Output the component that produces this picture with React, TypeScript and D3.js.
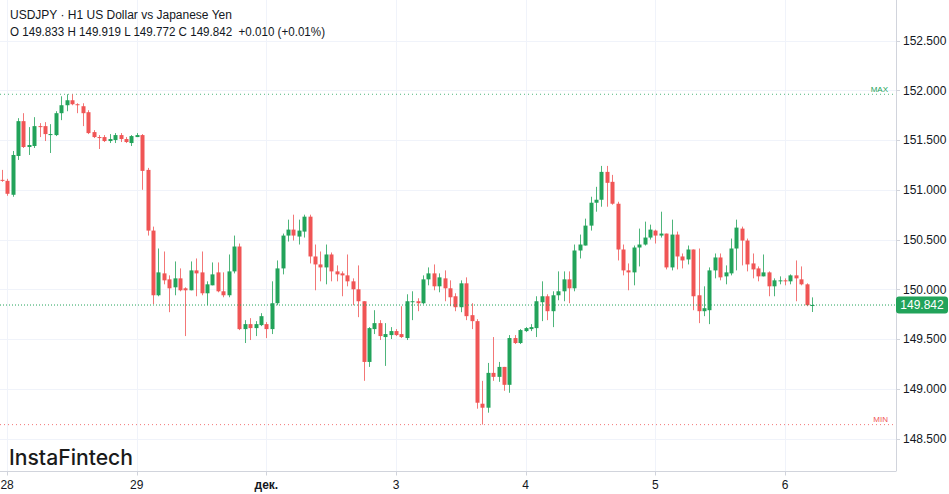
import React from 'react';
import * as d3 from 'd3';

const opens = [
  151.10, 151.09, 150.95, 151.34, 151.69, 151.43, 151.44, 151.64, 151.64, 151.55,
  151.55, 151.77, 151.85, 151.90, 151.86, 151.84, 151.78, 151.58, 151.53, 151.53,
  151.49, 151.50, 151.55, 151.51, 151.47, 151.53, 151.55, 151.20, 150.59, 149.94,
  150.16, 150.10, 150.02, 150.11, 150.01, 149.99, 150.19, 150.17, 149.96, 150.04,
  150.17, 149.98, 149.94, 150.18, 150.43, 149.60, 149.65, 149.61, 149.64, 149.65,
  149.60, 149.86, 150.21, 150.54, 150.60, 150.53, 150.58, 150.73, 150.33, 150.25,
  150.22, 150.35, 150.18, 150.16, 150.14, 150.08, 150.00, 149.88, 149.27, 149.60,
  149.66, 149.52, 149.54, 149.58, 149.55, 149.51, 149.87, 149.88, 149.86, 150.10,
  150.16, 150.03, 150.11, 150.01, 149.93, 149.82, 150.06, 149.74, 149.68, 148.85,
  148.81, 149.16, 149.12, 149.22, 149.04, 149.51, 149.46, 149.58, 149.60, 149.61,
  149.87, 149.93, 149.78, 149.94, 149.98, 150.10, 150.01, 150.39, 150.44, 150.64,
  150.87, 150.90, 151.18, 151.08, 150.86, 150.40, 150.19, 150.17, 150.42, 150.45,
  150.52, 150.59, 150.54, 150.56, 150.22, 150.55, 150.33, 150.30, 150.40, 149.94,
  149.78, 149.79, 150.19, 150.32, 150.13, 150.16, 150.41, 150.61, 150.49, 150.26,
  150.21, 150.13, 150.17, 150.03, 150.08, 150.09, 150.08, 150.14, 150.10, 150.05,
  149.833,
];

const highs = [
  151.20, 151.11, 151.39, 151.72, 151.77, 151.63, 151.73, 151.67, 151.68, 151.66,
  151.79, 151.94, 151.96, 151.96, 151.87, 151.87, 151.80, 151.60, 151.55, 151.55,
  151.56, 151.57, 151.57, 151.53, 151.55, 151.57, 151.56, 151.22, 150.63, 150.41,
  150.38, 150.14, 150.28, 150.21, 150.02, 150.28, 150.31, 150.38, 150.08, 150.27,
  150.27, 150.17, 150.35, 150.54, 150.46, 149.69, 149.71, 149.68, 149.76, 149.67,
  150.08, 150.29, 150.56, 150.70, 150.75, 150.70, 150.75, 150.75, 150.45, 150.38,
  150.45, 150.37, 150.24, 150.18, 150.35, 150.11, 150.24, 149.88, 149.62, 149.79,
  149.69, 149.66, 149.62, 149.60, 149.83, 149.95, 149.98, 149.91, 150.14, 150.22,
  150.25, 150.16, 150.19, 150.09, 149.96, 150.09, 150.12, 149.86, 149.70, 149.08,
  149.26, 149.52, 149.27, 149.22, 149.54, 149.54, 149.60, 149.62, 149.65, 149.93,
  150.08, 149.95, 149.98, 150.18, 150.18, 150.18, 150.45, 150.55, 150.71, 150.93,
  151.03, 151.24, 151.24, 151.15, 150.88, 150.45, 150.26, 150.44, 150.61, 150.68,
  150.65, 150.60, 150.78, 150.56, 150.70, 150.58, 150.36, 150.44, 150.40, 150.41,
  150.03, 150.22, 150.36, 150.36, 150.24, 150.51, 150.70, 150.63, 150.51, 150.36,
  150.23, 150.35, 150.18, 150.11, 150.13, 150.11, 150.15, 150.29, 150.23, 150.06,
  149.919,
];

const lows = [
  151.08, 150.94, 150.93, 151.30, 151.42, 151.35, 151.42, 151.53, 151.49, 151.37,
  151.54, 151.70, 151.79, 151.85, 151.77, 151.64, 151.56, 151.52, 151.41, 151.48,
  151.47, 151.47, 151.48, 151.47, 151.44, 151.53, 151.00, 150.54, 149.85, 149.93,
  150.05, 149.77, 149.94, 149.98, 149.53, 149.99, 149.93, 149.94, 149.84, 150.04,
  149.97, 149.92, 149.92, 150.16, 149.59, 149.46, 149.49, 149.53, 149.63, 149.51,
  149.55, 149.84, 150.15, 150.48, 150.49, 150.45, 150.52, 150.26, 149.99, 150.08,
  150.05, 150.08, 150.08, 149.93, 150.03, 149.84, 149.72, 149.08, 149.22, 149.55,
  149.49, 149.23, 149.50, 149.53, 149.51, 149.49, 149.69, 149.78, 149.85, 150.04,
  149.99, 149.97, 149.88, 149.83, 149.78, 149.77, 149.69, 149.60, 148.80, 148.64,
  148.76, 149.08, 149.07, 148.98, 148.96, 149.45, 149.45, 149.57, 149.58, 149.52,
  149.68, 149.69, 149.62, 149.89, 149.88, 149.86, 149.98, 150.31, 150.44, 150.59,
  150.78, 150.83, 150.83, 150.85, 150.29, 150.14, 149.99, 150.04, 150.23, 150.44,
  150.50, 150.46, 150.52, 150.20, 150.19, 150.20, 150.21, 150.25, 149.79, 149.66,
  149.73, 149.65, 150.11, 150.09, 150.05, 150.14, 150.19, 150.24, 150.18, 150.11,
  150.08, 150.13, 149.93, 149.93, 150.05, 150.04, 150.05, 149.88, 150.04, 149.83,
  149.772,
];

const closes = [
  151.09, 150.96, 151.35, 151.69, 151.43, 151.45, 151.64, 151.63, 151.56, 151.56,
  151.77, 151.85, 151.90, 151.86, 151.85, 151.77, 151.57, 151.53, 151.52, 151.49,
  151.51, 151.55, 151.51, 151.48, 151.54, 151.55, 151.19, 150.59, 149.94, 150.17,
  150.09, 150.01, 150.11, 149.99, 149.99, 150.19, 150.16, 149.96, 150.05, 150.15,
  149.98, 149.94, 150.18, 150.43, 149.60, 149.65, 149.61, 149.65, 149.73, 149.60,
  149.86, 150.21, 150.54, 150.60, 150.54, 150.59, 150.73, 150.33, 150.25, 150.22,
  150.35, 150.18, 150.15, 150.14, 150.08, 150.00, 149.88, 149.27, 149.61, 149.66,
  149.53, 149.55, 149.58, 149.54, 149.52, 149.88, 149.88, 149.86, 150.10, 150.16,
  150.03, 150.12, 150.01, 149.92, 149.82, 150.06, 149.73, 149.68, 148.86, 148.81,
  149.16, 149.12, 149.22, 149.04, 149.51, 149.46, 149.59, 149.61, 149.62, 149.88,
  149.93, 149.78, 149.94, 149.98, 150.10, 150.01, 150.39, 150.45, 150.64, 150.87,
  150.90, 151.18, 151.07, 150.86, 150.40, 150.19, 150.17, 150.42, 150.45, 150.52,
  150.60, 150.54, 150.56, 150.22, 150.55, 150.33, 150.29, 150.40, 149.93, 149.78,
  149.81, 150.19, 150.32, 150.12, 150.17, 150.41, 150.62, 150.49, 150.25, 150.20,
  150.13, 150.17, 150.03, 150.09, 150.09, 150.08, 150.14, 150.11, 150.05, 149.84,
  149.842,
];

const dayLabels = ['28', '29', 'дек.', '3', '4', '5', '6'];
const dayIndex = [1, 25, 49, 73, 97, 121, 145];
const priceTicks = [152.5, 152.0, 151.5, 151.0, 150.5, 150.0, 149.5, 149.0, 148.5];

const title = 'USDJPY · H1 US Dollar vs Japanese Yen';
const ohlcLine = 'O 149.833 H 149.919 L 149.772 C 149.842  +0.010 (+0.01%)';
const lastPrice = 149.842;

const UP = '#22a35a';
const DOWN = '#f05555';
const GRID = '#f0f3fa';
const AXIS = '#d1d4dc';
const TEXT = '#131722';
const FONT = '"Liberation Sans", Arial, sans-serif';

export default function App() {
  const W = 949;
  const H = 494;
  const plotRight = 896;
  const plotBottom = 471.5;

  const x = d3.scaleLinear().domain([0, opens.length - 1]).range([1.7, 812]);
  const y = d3.scaleLinear().domain([148.5, 152.5]).range([438.55, 40.55]);

  const maxHigh = d3.max(highs) as number;
  const minLow = d3.min(lows) as number;
  const bodyW = 4;

  const candles = opens.map((o, i) => {
    const c = closes[i];
    const up = c >= o;
    const color = up ? UP : DOWN;
    const cx = Math.round(x(i));
    const top = y(Math.max(o, c));
    const bot = y(Math.min(o, c));
    return (
      <g key={i}>
        <line
          x1={cx + 0.5}
          x2={cx + 0.5}
          y1={y(highs[i])}
          y2={y(lows[i])}
          stroke={color}
          strokeWidth={1}
          strokeOpacity={0.8}
        />
        <rect
          x={cx + 0.5 - bodyW / 2}
          y={top}
          width={bodyW}
          height={Math.max(1, bot - top)}
          fill={color}
        />
      </g>
    );
  });

  const yLast = y(lastPrice);

  return (
    <svg
      width={W}
      height={H}
      style={{ position: 'absolute', left: 0, top: 0, background: '#ffffff' }}
      fontFamily={FONT}
    >
      <rect x={0} y={0} width={W} height={H} fill="#ffffff" />
      {/* grid */}
      {priceTicks.map((p) => (
        <line key={'g' + p} x1={0} x2={plotRight} y1={Math.round(y(p)) + 0.5} y2={Math.round(y(p)) + 0.5} stroke={GRID} strokeWidth={1} />
      ))}
      {dayIndex.map((d) => (
        <line key={'v' + d} x1={Math.round(x(d)) + 0.5} x2={Math.round(x(d)) + 0.5} y1={0} y2={plotBottom} stroke={GRID} strokeWidth={1} />
      ))}

      {/* max / min lines */}
      <line x1={0} x2={plotRight} y1={y(maxHigh)} y2={y(maxHigh)} stroke={UP} strokeWidth={1} strokeDasharray="1 3" strokeOpacity={0.8} />
      <text x={888} y={y(maxHigh) - 2.5} fontSize={8} fill={UP} textAnchor="end">MAX</text>
      <line x1={0} x2={plotRight} y1={y(minLow)} y2={y(minLow)} stroke={DOWN} strokeWidth={1} strokeDasharray="1 3" strokeOpacity={0.8} />
      <text x={888} y={y(minLow) - 2.5} fontSize={8} fill={DOWN} textAnchor="end">MIN</text>

      {/* candles */}
      {candles}

      {/* last price line */}
      <line x1={0} x2={plotRight} y1={yLast} y2={yLast} stroke={UP} strokeWidth={1} strokeDasharray="1 2" />

      {/* axes */}
      <line x1={plotRight + 0.5} x2={plotRight + 0.5} y1={0} y2={plotBottom} stroke={AXIS} strokeWidth={1} />
      <line x1={0} x2={plotRight} y1={plotBottom} y2={plotBottom} stroke={AXIS} strokeWidth={1} />
      {priceTicks.map((p) => (
        <g key={'t' + p}>
          <line x1={plotRight} x2={plotRight + 4} y1={Math.round(y(p)) + 0.5} y2={Math.round(y(p)) + 0.5} stroke={AXIS} />
          <text x={903} y={y(p) + 4.3} fontSize={12} fill={TEXT}>
            {d3.format('.3f')(p)}
          </text>
        </g>
      ))}
      {dayIndex.map((d, i) => (
        <g key={'d' + d}>
          <line x1={Math.round(x(d)) + 0.5} x2={Math.round(x(d)) + 0.5} y1={plotBottom} y2={plotBottom + 4} stroke={AXIS} />
          <text
            x={x(d)}
            y={489}
            fontSize={12}
            fill={TEXT}
            textAnchor="middle"
            fontWeight={dayLabels[i] === 'дек.' ? 'bold' : 'normal'}
          >
            {dayLabels[i]}
          </text>
        </g>
      ))}

      {/* last price label */}
      <rect x={plotRight} y={yLast - 8.5} width={52} height={17} rx={3} fill={UP} />
      <text x={922} y={yLast + 4.3} fontSize={12} fill="#ffffff" textAnchor="middle">
        {d3.format('.3f')(lastPrice)}
      </text>

      {/* header */}
      <text x={10} y={19} fontSize={12} fill={TEXT}>{title}</text>
      <text x={10} y={35.5} fontSize={12} fill={TEXT} style={{ whiteSpace: 'pre' }} textLength={315} lengthAdjust="spacingAndGlyphs">{ohlcLine}</text>

      {/* logo */}
      <text x={9} y={465} fontSize={21} fontFamily="Inter, Lato, sans-serif" fontWeight={500} fill="#1a1a1a" textLength={124} lengthAdjust="spacingAndGlyphs">
        InstaFintech
      </text>
    </svg>
  );
}
